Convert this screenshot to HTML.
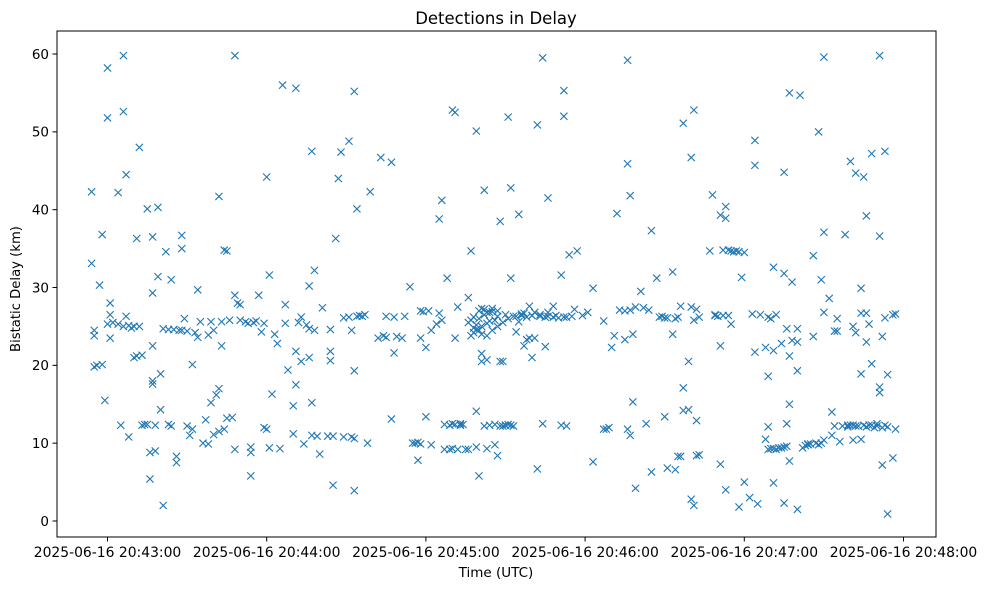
<!DOCTYPE html>
<html><head><meta charset="utf-8"><style>
body{margin:0;background:#fff;font-family:"DejaVu Sans","Liberation Sans",sans-serif}
svg text{font-family:"DejaVu Sans","Liberation Sans",sans-serif;fill:#000}
</style></head><body>
<svg id="chart" width="986" height="590" xmlns="http://www.w3.org/2000/svg">
<rect width="986" height="590" fill="#fff"/>
<text x="496" y="24" font-size="16.5" text-anchor="middle">Detections in Delay</text>
<g id="marks"></g>
<rect x="57" y="31" width="879" height="506" fill="none" stroke="#000" stroke-width="1"/>
<g id="xaxis"></g>
<g id="yaxis"></g>
<text x="496" y="577" font-size="13.5" text-anchor="middle">Time (UTC)</text>
<text transform="translate(20,289) rotate(-90)" font-size="13.2" text-anchor="middle">Bistatic Delay (km)</text>
</svg>
<script>
// seconds after 20:43:00, bistatic delay km
const xTickSeconds=[0,60,120,180,240,300];
const xTickLabels=["2025-06-16 20:43:00","2025-06-16 20:44:00","2025-06-16 20:45:00","2025-06-16 20:46:00","2025-06-16 20:47:00","2025-06-16 20:48:00"];
const yTicks=[0,10,20,30,40,50,60];
const detections=[
[-6,42.3],[-6,33.1],[-5,24.5],[-5,23.8],[-5,19.8],[-4,20],[-3,30.3],[-2,20.1],[-2,36.8],[-1,15.5],[0,58.2],[0,51.8],[0,25.3],[1,26.5],[1,23.5],[1,28],[2,25.5],
[4,42.2],[4,25.3],[5,12.3],[6,52.6],[6,59.8],[7,44.5],[7,26.3],[6,25],[8,10.8],[8,25.1],[9,24.8],[10,25],[10,21],[11,36.3],[11,21.2],[12,48],[12,25],[13,12.3],[13,21.3],[14,12.4],[15,40.1],[15,12.4],[16,5.4],[16,8.8],[17,36.5],[17,29.3],[17,22.5],[17,17.6],[17,18],[18,12.3],[18,9],[19,31.4],[19,40.3],[20,14.3],[20,18.9],[21,2],[21,24.7],[22,34.6],[23,12.4],[23,24.6],[24,31],[24,12.2],[25,24.6],[26,7.5],[26,8.3],[27,24.5],[28,24.5],[28,35],[28,36.7],[29,26],[30,24.4],[30,12.2],[31,11],[32,20.1],[32,11.8],[33,24.2],[34,29.7],[34,23.6],[35,25.6],[36,10],[37,13],[38,9.9],[38,23.9],[39,25.6],[39,15.2],[40,11.1],[40,24.5],[41,16.2],[42,17],[42,11.5],[42,41.7],[43,22.5],[43,25.6],[44,11.8],[44,34.8],[45,34.7],[45,13.2],[46,25.8],[47,13.3],[48,29],[48,9.2],[48,59.8],[49,28],[50,27.8],[50,25.8],[52,25.6],[53,25.4],[54,8.8],[54,5.8],[54,9.5],[55,25.5],[56,25.7],[57,29],[58,24.3],[59,12],[59,25.4],[60,11.8],[60,44.2],[61,31.6],[61,9.4],[62,16.3],[63,24],[64,22.8],[65,9.3],[66,56],[67,25.4],[67,27.8],[68,19.4],[70,11.2],[70,14.8],[71,21.8],[71,17.5],[71,55.6],[72,25.5],[73,26.2],[73,20.5],[74,9.9],[75,25.2],[76,24.7],[76,30.2],[76,21],[77,47.5],[77,11],[77,15.2],[78,24.5],[78,32.2],[79,10.9],[80,8.6],[81,27.4],[83,10.9],[84,24.6],[84,21.8],[84,20.6],[85,4.6],[85,10.9],
[86,36.3],[87,44],[88,47.4],[89,26.1],[89,10.8],[91,48.8],[91,26.2],[92,24.5],[92,10.8],[93,19.3],[93,55.2],[93,10.6],[93,3.9],[94,40.1],[94,26.3],[95,26.4],[96,26.3],[97,26.5],[98,10],[99,42.3],[102,23.5],[103,46.7],[104,23.8],[105,26.3],[105,23.6],[107,46.1],[107,13.1],[108,21.6],[108,26.2],[109,23.7],[111,23.5],[112,26.3],[114,30.1],
[115,10],[116,10],[117,7.8],[117,10.1],[118,9.9],[118,27],[118,23.5],[119,26.9],[120,13.4],[120,22.3],[121,27],[122,9.8],[122,24.5],[124,25.3],[125,38.8],[125,26.7],[126,41.2],[126,25.8],[127,9.2],[127,12.4],[128,31.2],[129,12.3],[130,52.8],[130,12.5],[131,52.5],[131,23.5],[132,27.5],[132,9.2],[133,12.5],[135,9.2],[136,28.7],[136,9.2],[137,23.8],[137,34.7],[138,24.2],[139,9.5],[139,50.1],[139,14.1],[140,5.8],[140,27],[140,24.5],[141,20.5],[141,21.5],[141,27.3],[141,25],[142,42.5],[142,12.2],[142,27.2],[143,20.7],[143,9.3],[143,25.4],[144,26.8],[144,12.3],[144,25.7],[146,25.8],[146,9.8],[147,8.4],[147,26.3],[148,20.5],[148,38.5],[149,20.5],[149,12.2],[150,12.3],[150,26.5],[151,51.9],[151,12.4],[152,31.2],[152,42.8],[152,12.3],[153,12.2],[153,26.3],[154,24.3],[155,39.4],[155,25.6],[157,26.7],[157,22.5],[158,23.3],[158,26.2],[159,27.6],[159,23.5],[160,21],[160,26.4],[161,26.8],[161,23.5],[162,50.9],[162,6.7],[163,26.5],[164,59.5],[164,12.5],[165,22.4],[165,26.2],[166,41.5],[166,26.8],[168,27.6],[169,26.4],[170,26.1],[171,12.3],[171,31.6],[172,52],[172,55.3],[172,26.2],[173,12.2],[173,26.2],[174,34.2],[175,26.3],[176,27.2],[177,34.7],[179,26.4],[181,26.8],[183,29.9],[183,7.6],
[136,25.5],[137,25.8],[138,26.2],[139,25.2],[140,26],[142,26.5],[143,26.8],[145,26.9],[138,24.8],[139,24.6],[141,24],[143,23.8],[145,24.5],[147,25],[149,25.5],[151,26],[154,26.3],[156,26.4],[160,26.4],[163,26.3],[166,26.3],[168,26.2],[145,27.3],[147,27],[150,12.3],[148,12.2],[146,12.4],[133,12.3],[134,12.4],[131,12.4],[129,9.2],[130,9.3],[156,26.6],
[187,25.7],[187,11.8],[188,11.8],[189,12],[190,22.3],[191,23.8],[192,39.5],[193,27.1],[195,27],[195,23.3],[196,45.9],[196,59.2],[196,11.8],[197,11],[197,27.1],[197,41.8],[198,15.3],[198,24],[199,4.2],[199,27.5],[201,29.5],[202,27.4],[203,12.5],[204,27.1],[205,6.3],[205,37.3],[207,31.2],[208,26.2],[209,26.3],[210,26.1],[210,13.4],[211,26.1],[211,6.8],[213,24],[213,32],[214,6.6],[214,26],[215,8.3],[215,26.2],[216,8.3],[216,27.6],[217,14.2],[217,17.1],[217,51.1],[219,14.3],[219,20.5],[220,46.7],[220,27.5],[220,2.8],[221,2],[221,52.8],[221,25.8],[222,27.2],[222,12.9],[222,8.4],[223,8.5],[223,26.2],[227,34.7],[228,41.9],[229,26.5],[231,39.3],[231,22.5],[231,7.3],[232,26.4],[232,34.8],[233,40.4],[233,38.9],[233,4],[234,34.8],[234,26.4],[235,34.7],[235,25.3],[237,34.7],[238,34.6],[238,1.8],[239,31.3],[240,34.5],[240,5],[242,3],[243,26.6],[244,48.9],[244,45.7],[244,21.7],[245,2.2],[246,26.5],[248,22.3],[248,10.5],[249,26.2],[249,9.2],[249,12.1],[249,18.6],[250,26],[250,9.3],[251,32.6],[251,21.9],[251,4.9],[252,9.2],[252,26.5],[254,9.4],[254,22.8],[255,44.8],[255,31.8],[255,9.5],[255,2.3],[256,24.7],[256,12.5],[256,9.6],[257,55],[257,21.2],[257,15],[257,7.7],[258,30.7],[258,23.2],[260,24.7],[260,23],[260,1.5],[260,19.3],[261,54.7],[262,9.4],[263,9.7],[264,9.8],[266,34.1],[266,23.7],[267,10],[268,50],[268,9.8],[269,31],[269,10],[270,59.6],[270,37.1],[270,26.8],[270,10.4],[272,28.6],[273,14],[273,11],[274,24.4],[274,12.2],[275,26],[275,24.4],[276,10.2],[278,36.8],[279,12.1],[279,12.3],[280,46.2],[281,25],[281,10.4],[281,12.3],[282,24.2],[282,12.2],[282,44.7],[284,10.5],[284,29.9],[284,26.7],[284,18.9],[285,44.2],[285,12.3],[286,23],[286,39.2],[286,26.7],[287,12.3],[287,25.3],[288,20.2],[288,47.2],[290,12.2],[290,12.5],[291,59.8],[291,36.6],[291,17.2],[291,16.5],[292,7.2],[292,12],[292,23.7],[293,12.3],[293,47.5],[293,26.1],[294,18.8],[294,12.1],[294,0.9],[296,26.5],[296,8.1],[297,11.8],[297,26.6],
[283,12.2],[286,12.1],[288,12.3],[289,12],[277,12.2],[280,12.3],[229,26.4],[230,26.3],[236,34.6],[253,9.4],[251,9.3],[264,9.9],[265,9.9]
];
const X0=107.5,PXS=159.2/60,Y0=521,PXK=7.783;
function xs(t){return X0+t*PXS;}
function ys(v){return Y0-v*PXK;}
const NS="http://www.w3.org/2000/svg";
const marks=document.getElementById('marks');
detections.forEach(function(p){
  const x=xs(p[0]),y=ys(p[1]),r=3.6;
  const path=document.createElementNS(NS,'path');
  path.setAttribute('d','M'+(x-r)+' '+(y-r)+'L'+(x+r)+' '+(y+r)+'M'+(x-r)+' '+(y+r)+'L'+(x+r)+' '+(y-r));
  path.setAttribute('stroke','#1f77b4');
  path.setAttribute('stroke-width','1.1');
  path.setAttribute('fill','none');
  
  
  marks.appendChild(path);
});
const xa=document.getElementById('xaxis');
xTickSeconds.forEach(function(t,i){
  const x=xs(t);
  const l=document.createElementNS(NS,'line');
  l.setAttribute('x1',x);l.setAttribute('x2',x);l.setAttribute('y1',537);l.setAttribute('y2',541.5);
  l.setAttribute('stroke','#000');
  
  
  xa.appendChild(l);
  const tx=document.createElementNS(NS,'text');
  tx.setAttribute('x',x);tx.setAttribute('y',557);tx.setAttribute('font-size','13.9');tx.setAttribute('text-anchor','middle');
  tx.textContent=xTickLabels[i];
  
  
  xa.appendChild(tx);
});
const ya=document.getElementById('yaxis');
yTicks.forEach(function(v){
  const y=ys(v);
  const l=document.createElementNS(NS,'line');
  l.setAttribute('x1',52.5);l.setAttribute('x2',57);l.setAttribute('y1',y);l.setAttribute('y2',y);
  l.setAttribute('stroke','#000');
  
  
  ya.appendChild(l);
  const tx=document.createElementNS(NS,'text');
  tx.setAttribute('x',49);tx.setAttribute('y',y+4.8);tx.setAttribute('font-size','13.5');tx.setAttribute('text-anchor','end');
  tx.textContent=String(v);
  
  
  ya.appendChild(tx);
});
</script>
</body></html>
